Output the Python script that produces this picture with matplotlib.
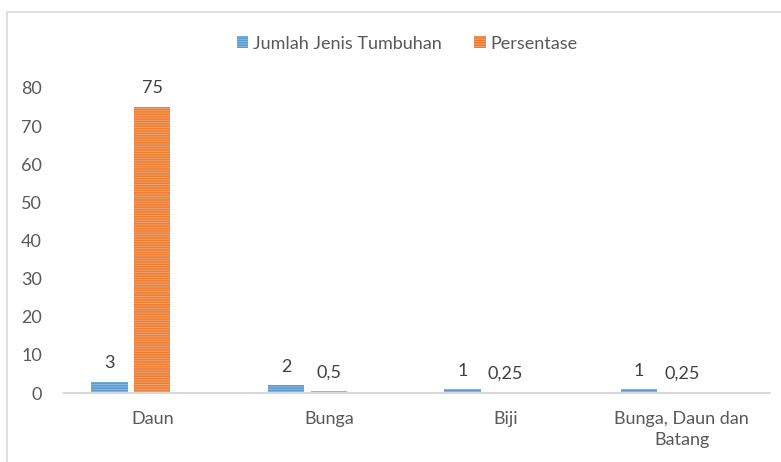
import numpy as np
import matplotlib
matplotlib.use("Agg")
import matplotlib.pyplot as plt
from matplotlib.patches import Rectangle

kategori = ["Daun", "Bunga", "Biji", "Bunga, Daun dan\nBatang"]
jumlah = [3, 2, 1, 1]
persen = [75, 0.5, 0.25, 0.25]
label_jumlah = ["3", "2", "1", "1"]
label_persen = ["75", "0,5", "0,25", "0,25"]

plt.rcParams['font.family'] = ['Lato', 'DejaVu Sans']
plt.rcParams['hatch.linewidth'] = 0.6

biru = "#5B9BD5"
oranye = "#ED7D31"
fs = 13

fig = plt.figure(figsize=(7.81, 4.62), dpi=100)
# bingkai chart
fig.patches.append(Rectangle((7 / 781, -0.5), 2, 1.5 - 12 / 462, transform=fig.transFigure,
                             fill=False, edgecolor="#d9d9d9", linewidth=1.2))
ax = fig.add_axes([64 / 781, 1 - 393 / 462, 706 / 781, 305 / 462])

x = np.arange(len(kategori))
w = 0.205
off = 0.242
b1 = ax.bar(x - off, jumlah, w, color=biru, edgecolor="#8fbde6", hatch="-------", linewidth=0,
            label="Jumlah Jenis Tumbuhan")
b2 = ax.bar(x, persen, w, color=oranye, edgecolor="#f4a774", hatch="-------", linewidth=0,
            label="Persentase")

for i in range(len(kategori)):
    ax.text(x[i] - off, jumlah[i] + 2.8, label_jumlah[i], ha="center", va="bottom",
            fontsize=fs, color="#404040")
    ax.text(x[i], persen[i] + 2.8, label_persen[i], ha="center", va="bottom",
            fontsize=fs, color="#404040")

ax.set_xlim(-0.5, 3.5)
ax.set_ylim(0, 80)
ax.set_yticks(range(0, 81, 10))
ax.set_xticks(x)
ax.set_xticklabels(kategori, linespacing=1.35)
ax.tick_params(axis="both", length=0, labelsize=fs, labelcolor="#595959")
ax.tick_params(axis="x", pad=13)
ax.tick_params(axis="y", pad=16)
for s in ["top", "right", "left"]:
    ax.spines[s].set_visible(False)
ax.spines["bottom"].set_color("#d9d9d9")
ax.spines["bottom"].set_linewidth(1.5)

ax.legend(loc="upper center", bbox_to_anchor=(0.486, 1.225), ncol=2, frameon=False,
          fontsize=fs, labelcolor="#595959", handlelength=0.65, handleheight=0.65,
          handletextpad=0.25, columnspacing=1.8)

fig.savefig("out.png", dpi=100)
